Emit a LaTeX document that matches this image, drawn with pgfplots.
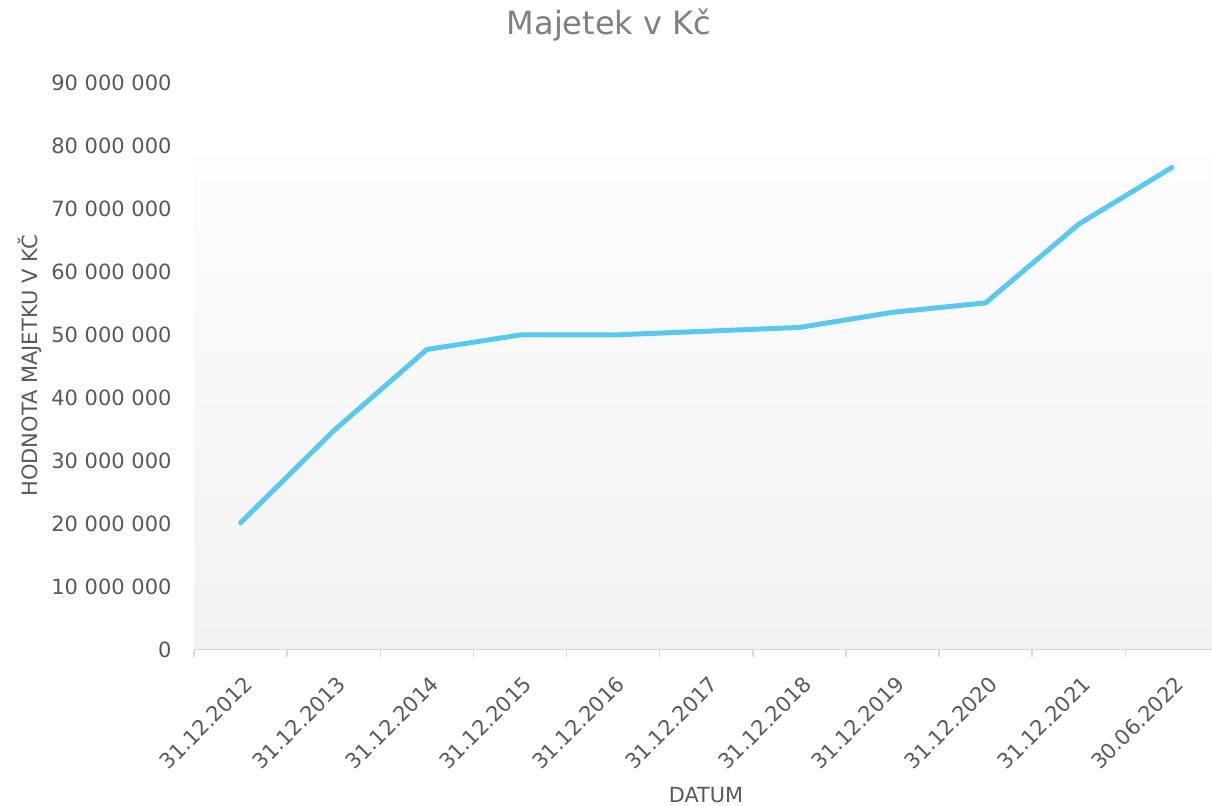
\documentclass[border=0pt]{standalone}
\usepackage{fontspec}
\setmainfont{DejaVu Sans}
\usepackage{pgfplots}
\pgfplotsset{compat=1.18}
\definecolor{txt}{HTML}{595959}
\definecolor{ttl}{HTML}{808080}
\definecolor{ln}{HTML}{5BC9EF}
\definecolor{axl}{HTML}{D9D9D9}
\definecolor{bgtop}{HTML}{FDFDFD}
\definecolor{bgbot}{HTML}{F2F2F2}
\begin{document}
\begin{tikzpicture}
\path[use as bounding box] (0,0) rectangle (606pt,403pt);
\begin{axis}[
  at={(97pt,78pt)}, anchor=south west,
  scale only axis, width=509pt, height=283.5pt,
  xmin=-0.5, xmax=10.43, ymin=0, ymax=90000000,
  axis line style={draw=none},
  xtick={0,...,10},
  xticklabels={31.12.2012,31.12.2013,31.12.2014,31.12.2015,31.12.2016,31.12.2017,31.12.2018,31.12.2019,31.12.2020,31.12.2021,30.06.2022},
  minor xtick={-0.5,0.5,...,9.5},
  major tick length=0pt, minor tick length=3.5pt,
  xtick align=outside, tick pos=bottom,
  minor x tick style={axl, line width=0.75pt},
  ytick={0,10000000,20000000,30000000,40000000,50000000,60000000,70000000,80000000,90000000},
  ytick style={draw=none},
  scaled y ticks=false,
  /pgf/number format/.cd, fixed, precision=0, 1000 sep={\ }, assume math mode=true,
  /pgfplots/.cd,
  xticklabel style={xshift=4pt, yshift=-15pt, rotate=45, anchor=east, inner sep=0pt, font=\fontsize{10.5}{12}\selectfont, text=txt},
  yticklabel style={anchor=east, inner sep=0pt, xshift=-11pt, font=\fontsize{10.5}{12}\selectfont, text=txt},
]
\fill[top color=bgtop, bottom color=bgbot] (rel axis cs:0,0) rectangle (rel axis cs:1,0.869);
\draw[axl, line width=0.75pt] (rel axis cs:0,0) -- (rel axis cs:1,0);
\addplot[ln, line width=2.5pt, line cap=round, line join=round, mark=none] coordinates {
(0,20200000) (1,34800000) (2,47700000) (3,50000000) (4,50000000) (5,50600000)
(6,51200000) (7,53600000) (8,55100000) (9,67600000) (10,76600000)};
\end{axis}
\node[anchor=base, text=ttl, font=\fontsize{16}{19}\selectfont] at (304.5pt,385.5pt) {Majetek v Kč};
\node[rotate=90, text=txt, font=\fontsize{10.5}{12}\selectfont] at (15pt,220pt) {HODNOTA MAJETKU V KČ};
\node[text=txt, font=\fontsize{10.4}{12}\selectfont] at (353pt,5.5pt) {DATUM};
\end{tikzpicture}
\end{document}
